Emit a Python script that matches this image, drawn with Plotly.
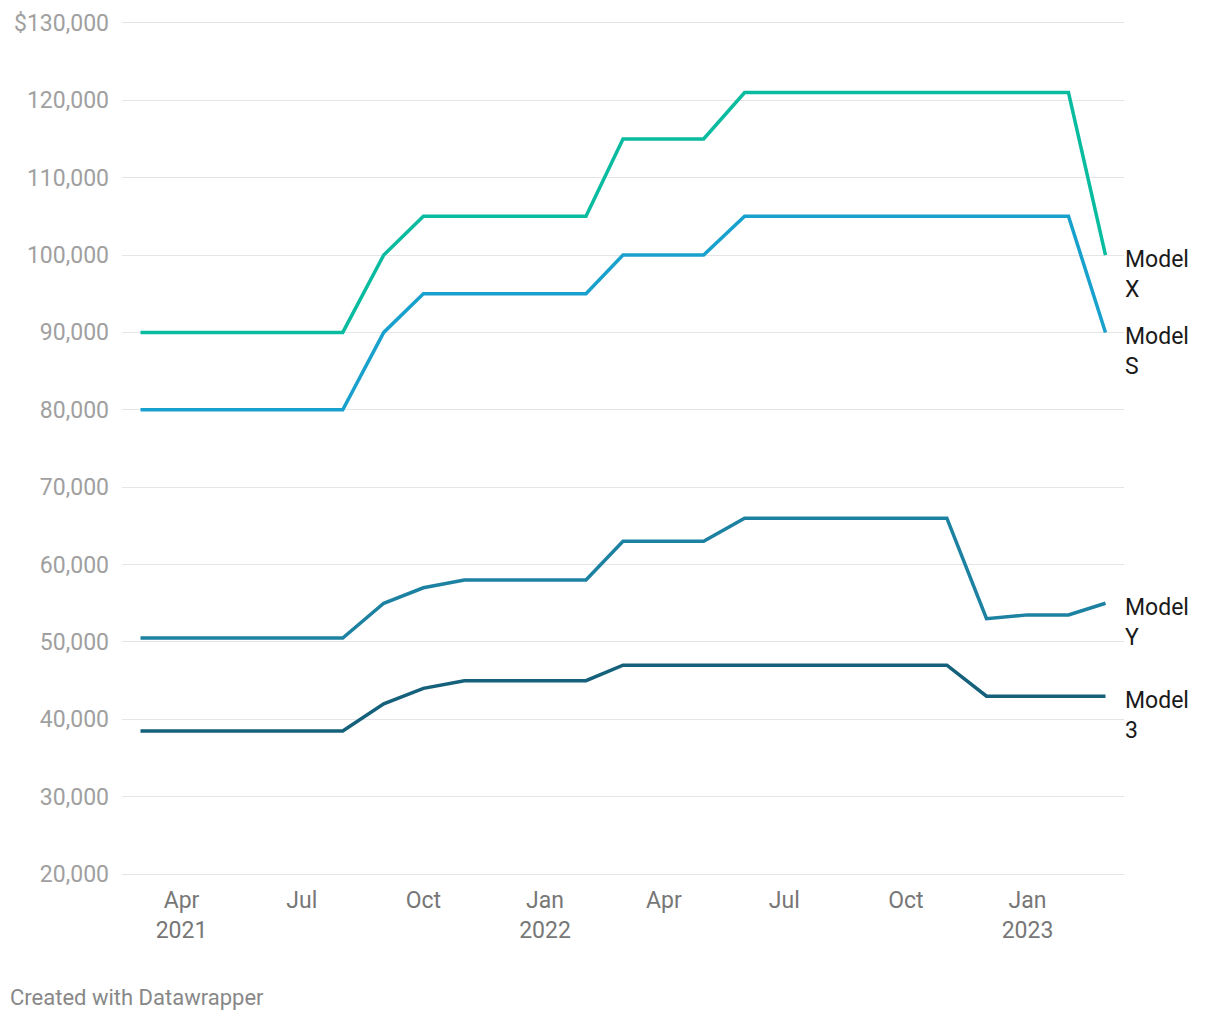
import plotly.graph_objects as go
import pandas as pd

dates = pd.date_range("2021-03-01", "2023-03-01", freq="MS")

model_x = [90000, 90000, 90000, 90000, 90000, 90000, 100000, 105000, 105000, 105000, 105000, 105000,
           115000, 115000, 115000, 121000, 121000, 121000, 121000, 121000, 121000, 121000, 121000, 121000, 100000]
model_s = [80000, 80000, 80000, 80000, 80000, 80000, 90000, 95000, 95000, 95000, 95000, 95000,
           100000, 100000, 100000, 105000, 105000, 105000, 105000, 105000, 105000, 105000, 105000, 105000, 90000]
model_y = [50500, 50500, 50500, 50500, 50500, 50500, 55000, 57000, 58000, 58000, 58000, 58000,
           63000, 63000, 63000, 66000, 66000, 66000, 66000, 66000, 66000, 53000, 53500, 53500, 55000]
model_3 = [38500, 38500, 38500, 38500, 38500, 38500, 42000, 44000, 45000, 45000, 45000, 45000,
           47000, 47000, 47000, 47000, 47000, 47000, 47000, 47000, 47000, 43000, 43000, 43000, 43000]

series = [("Model X", model_x, "#09bb9f"), ("Model S", model_s, "#18a1cd"),
          ("Model Y", model_y, "#1d81a2"), ("Model 3", model_3, "#15607a")]

y_ticks = list(range(20000, 130001, 10000))
y_ticktext = [f"{v:,}" for v in y_ticks[:-1]] + ["$130,000"]
x_tickvals = ["2021-04-01", "2021-07-01", "2021-10-01", "2022-01-01", "2022-04-01",
              "2022-07-01", "2022-10-01", "2023-01-01"]
x_ticktext = ["Apr<br>2021", "Jul", "Oct", "Jan<br>2022", "Apr", "Jul", "Oct", "Jan<br>2023"]

fig = go.Figure()
for name, vals, color in series:
    fig.add_trace(go.Scatter(x=dates, y=vals, mode="lines", name=name,
                             line=dict(color=color, width=3.5), hoverinfo="skip"))
    fig.add_annotation(x=dates[-1], y=vals[-1], text=name.replace(" ", "<br>"),
                       showarrow=False, xanchor="left", yanchor="top", xshift=18, yshift=11,
                       align="left", font=dict(size=23, color="#1a1a1a", family="Roboto"))

fig.add_annotation(x=0, y=0, xref="paper", yref="paper", xanchor="left", yanchor="middle",
                   text="Created with Datawrapper", showarrow=False, xshift=-114, yshift=-119,
                   font=dict(size=22, color="#888888", family="Roboto"))

fig.update_layout(
    width=1204, height=1004, showlegend=False,
    plot_bgcolor="white", paper_bgcolor="white",
    margin=dict(l=114, r=88, t=11, b=134, autoexpand=False),
    font=dict(family="Roboto"),
    xaxis=dict(range=["2021-02-15", "2023-03-15"], tickvals=x_tickvals, ticktext=x_ticktext,
               showgrid=False, zeroline=False, showline=False, ticks="", ticklabelstandoff=6,
               automargin=False, tickfont=dict(size=23, color="#777777")),
    yaxis=dict(range=[19500, 130500], tickvals=y_ticks, ticktext=y_ticktext,
               showgrid=True, gridcolor="#e5e5e5", gridwidth=1, zeroline=False,
               automargin=False, ticks="", ticklabelstandoff=12,
               tickfont=dict(size=23, color="#a0a0a0")),
)

fig.write_html("out.html")
